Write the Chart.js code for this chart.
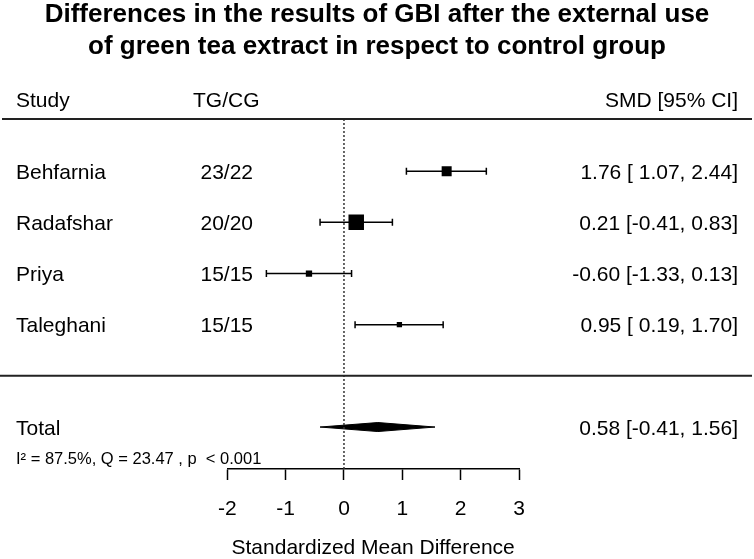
<!DOCTYPE html>
<html>
<head>
<meta charset="utf-8">
<script src="https://cdn.jsdelivr.net/npm/chart.js@4"></script>
<style>
  html, body { margin: 0; padding: 0; background: #fff; }
  #wrap { width: 754px; height: 559px; }
</style>
</head>
<body>
<div id="wrap"><canvas id="forestChart"></canvas></div>
<script>
// study data
const studies = ["Behfarnia", "Radafshar", "Priya", "Taleghani"];
const groupSizes = ["23/22", "20/20", "15/15", "15/15"];
const smd = [1.76, 0.21, -0.60, 0.95];
const ciLow = [1.07, -0.41, -1.33, 0.19];
const ciHigh = [2.44, 0.83, 0.13, 1.70];
// pooled estimate: smd, low, high
const total = [0.58, -0.41, 1.56];
const heterogeneity = "I² = 87.5%, Q = 23.47 , p  < 0.001";
const xTicks = [-2, -1, 0, 1, 2, 3];

const titleLines = [
    "Differences in the results of GBI after the external use",
    "of green tea extract in respect to control group",
];

// look
const boxSide = [10, 15.5, 6.3, 5.3];
const FONT = '"Liberation Sans", Arial, sans-serif';
const Y_MIN = -0.02, Y_MAX = 6.82;
const TOTAL_ROW = 6;
const DIAMOND_HALF = 0.088;

Chart.defaults.font.family = FONT;
Chart.defaults.color = "#000";

const fmt = v => (v < 0 ? "" : " ") + v.toFixed(2);
const ciText = (e, l, h) => e.toFixed(2) + " [" + fmt(l) + ", " + h.toFixed(2) + "]";

const ciSets = studies.map((s, i) => ({
    label: s,
    data: [{ x: ciLow[i], y: i + 1 }, { x: ciHigh[i], y: i + 1 }],
    showLine: true,
    borderColor: "#000",
    borderWidth: 1.5,
    pointStyle: "line",
    pointRotation: 90,
    pointRadius: 3.5,
    pointBorderWidth: 1.5,
    pointBorderColor: "#000",
}));

const datasets = [
    {
        label: "zero",
        data: [{ x: 0, y: Y_MIN }, { x: 0, y: Y_MAX }],
        showLine: true,
        borderColor: "#333",
        borderWidth: 1.5,
        borderDash: [2, 2],
        pointRadius: 0,
    },
    ...ciSets,
    {
        label: "SMD",
        data: smd.map((v, i) => ({ x: v, y: i + 1 })),
        pointStyle: "rect",
        pointRadius: boxSide.map(s => s / Math.SQRT2),
        pointBorderWidth: 0,
        backgroundColor: "#000",
        showLine: false,
    },
    {
        label: "Total",
        data: [
            { x: total[1], y: TOTAL_ROW },
            { x: total[0], y: TOTAL_ROW - DIAMOND_HALF },
            { x: total[2], y: TOTAL_ROW },
            { x: total[0], y: TOTAL_ROW + DIAMOND_HALF },
            { x: total[1], y: TOTAL_ROW },
        ],
        showLine: true,
        fill: "shape",
        backgroundColor: "#000",
        borderColor: "#000",
        borderWidth: 1,
        pointRadius: 0,
        tension: 0,
    },
];

const textPlugin = {
    id: "forestText",
    afterDraw(chart) {
        const { ctx, chartArea, scales: { y } } = chart;
        ctx.save();
        ctx.fillStyle = "#000";
        ctx.textBaseline = "alphabetic";

        ctx.font = "bold 26px " + FONT;
        ctx.textAlign = "center";
        ctx.fillText(titleLines[0], 377, 22);
        ctx.fillText(titleLines[1], 377, 54);

        // header + rules
        ctx.font = "21px " + FONT;
        ctx.textAlign = "left";
        ctx.fillText("Study", 16, 107);
        ctx.fillText("TG/CG", 193, 107);
        ctx.textAlign = "right";
        ctx.fillText("SMD [95% CI]", 738, 107);

        ctx.strokeStyle = "#222";
        ctx.lineWidth = 2;
        ctx.beginPath();
        ctx.moveTo(2, chartArea.top);
        ctx.lineTo(752, chartArea.top);
        const sep = y.getPixelForValue(5);
        ctx.moveTo(0, sep);
        ctx.lineTo(752, sep);
        ctx.stroke();

        studies.forEach((s, i) => {
            const py = y.getPixelForValue(i + 1) + 7.5;
            ctx.textAlign = "left";
            ctx.fillText(s, 16, py);
            ctx.textAlign = "right";
            ctx.fillText(groupSizes[i], 253, py);
            ctx.fillText(ciText(smd[i], ciLow[i], ciHigh[i]), 738, py);
        });

        const ty = y.getPixelForValue(TOTAL_ROW) + 7.5;
        ctx.textAlign = "left";
        ctx.fillText("Total", 16, ty);
        ctx.textAlign = "right";
        ctx.fillText(ciText(total[0], total[1], total[2]), 738, ty);

        ctx.font = "16.5px " + FONT;
        ctx.textAlign = "left";
        ctx.fillText(heterogeneity, 16, ty + 29);
        ctx.restore();
    },
};

new Chart(document.getElementById("forestChart"), {
    type: "scatter",
    data: { datasets },
    options: {
        responsive: true,
        maintainAspectRatio: false,
        animation: false,
        layout: { padding: { left: 227.3, right: 235, top: 119, bottom: 0 } },
        plugins: {
            legend: { display: false },
            tooltip: { enabled: false },
        },
        scales: {
            x: {
                type: "linear",
                min: -2,
                max: 3,
                afterBuildTicks: s => { s.ticks = xTicks.map(v => ({ value: v })); },
                afterFit: s => { s.height = 90; },
                border: { display: true, color: "#000", width: 1.5 },
                grid: { drawOnChartArea: false, tickLength: 11, tickColor: "#000", tickWidth: 1.5 },
                ticks: { font: { size: 21 }, padding: 17, color: "#000" },
                title: {
                    display: true,
                    text: "Standardized Mean Difference",
                    font: { size: 21, lineHeight: 1 },
                    padding: { top: 0, bottom: 0 },
                    color: "#000",
                },
            },
            y: {
                type: "linear",
                display: false,
                min: Y_MIN,
                max: Y_MAX,
                reverse: true,
            },
        },
    },
    plugins: [textPlugin],
});
</script>
</body>
</html>
